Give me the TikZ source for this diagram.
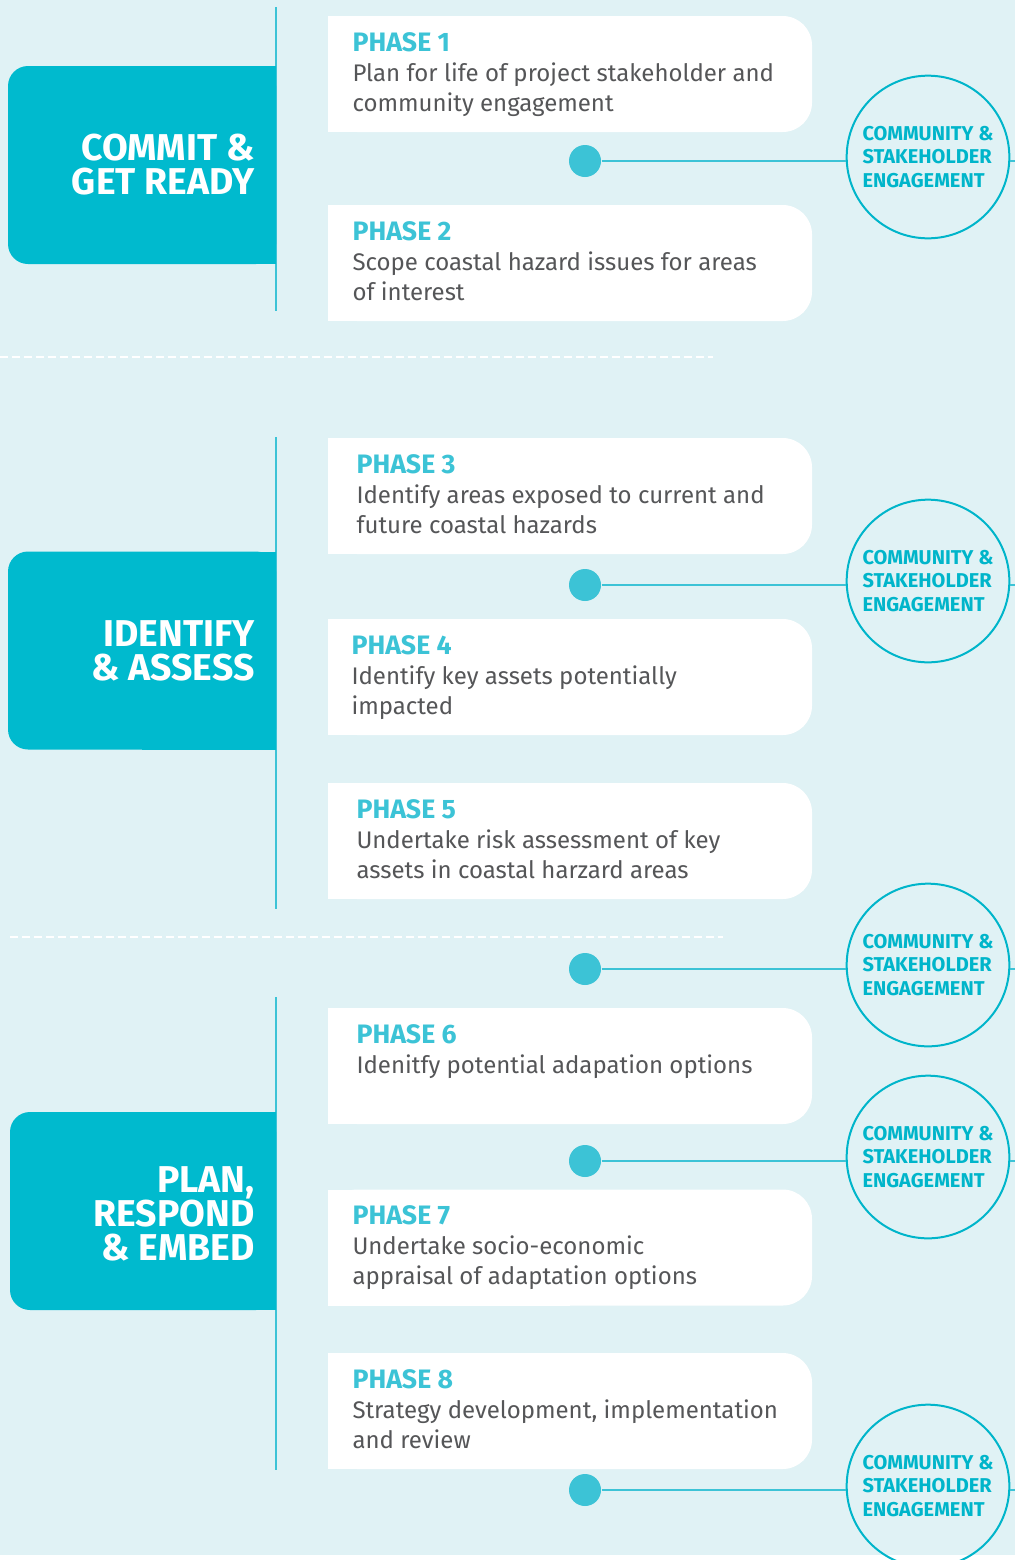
\documentclass[tikz,border=0pt]{standalone}
\usepackage{fontspec}
\setmainfont{Fira Sans}
\definecolor{bgcol}{HTML}{E0F2F5}
\definecolor{tabcol}{HTML}{00BACE}
\definecolor{linecol}{HTML}{3CC3D6}
\definecolor{circol}{HTML}{00B5CA}
\definecolor{txtcol}{HTML}{555658}
\tikzset{every picture/.style={line width=0.75pt}}
\tikzset{
  tabbox/.style={fill=tabcol, rounded corners=15pt, minimum width=201pt, minimum height=148.5pt, inner sep=0pt, outer sep=0pt},
  tablabel/.style={anchor=east, align=right, text=white, inner sep=0pt, font=\fontsize{28}{25.5}\selectfont\bfseries},
  phasebox/.style={fill=white, rounded corners=22pt, minimum width=363pt, minimum height=87pt, inner sep=0pt, outer sep=0pt},
  phasetext/.style={anchor=north west, align=left, text=txtcol, inner sep=0pt, font=\fontsize{18}{22.5}\selectfont},
  dot/.style={circle, fill=linecol, minimum size=24pt, inner sep=0pt},
  engage/.style={circle, draw=circol, line width=1.5pt, minimum size=122pt, inner sep=0pt, align=left, text=circol, font=\fontsize{15}{17.5}\selectfont\bfseries},
  link/.style={draw=linecol, line width=1.5pt},
  spine/.style={draw=linecol, line width=1.5pt},
  sep/.style={draw=white, line width=1.5pt, dash pattern=on 6pt off 3pt}
}
\newcommand{\phaselbl}[1]{{\fontsize{20}{22.5}\selectfont\bfseries\color{linecol}PHASE #1}}
\newcommand{\engtext}{COMMUNITY \&\\STAKEHOLDER\\ENGAGEMENT}

\begin{document}
\begin{tikzpicture}[x=0.75pt,y=0.75pt,yscale=-1,xscale=1]
\useasboundingbox (0,0) rectangle (1015,1560);
%Background
\fill[white] (0,0) rectangle (1015,1560);
\fill[bgcol] (0,0) rectangle (1015,1555);

%Dashed separators
\draw[sep] (0,357) -- (713,357);
\draw[sep] (10,937) -- (723,937);

%Spines
\draw[spine] (276,7) -- (276,311);
\draw[spine] (276,437) -- (276,909);
\draw[spine] (276,997) -- (276,1470);

%Tabs
\node[tabbox] (t1) at (142,165) {};
\fill[tabcol] (t1.north) rectangle (t1.south east);
\node[tablabel] (t1l) at ([xshift=-15.75pt]t1.east) {COMMIT \&\\GET READY};

\node[tabbox] (t2) at (142,650.5) {};
\fill[tabcol] (t2.north) rectangle (t2.south east);
\node[tablabel] (t2l) at ([xshift=-15.75pt]t2.east) {IDENTIFY\\\& ASSESS};

\node[tabbox, minimum width=199.5pt] (t3) at (143,1211) {};
\fill[tabcol] (t3.north) rectangle (t3.south east);
\node[tablabel] (t3l) at ([xshift=-15.75pt,yshift=2pt]t3.east) {PLAN,\\RESPOND\\\& EMBED};

%Phase boxes
\foreach \n/\y in {1/74,2/263,3/496,4/677,5/841,6/1066,7/1247.5,8/1411}{
  \node[phasebox] (p\n) at (570,\y) {};
  \fill[white] (p\n.north west) rectangle (p\n.south);
}

% Text Node
\node[phasetext] (p1t) at ([xshift=18pt,yshift=12pt]p1.north west) {\phaselbl{1}\\Plan for life of project stakeholder and\\community engagement};
% Text Node
\node[phasetext] (p2t) at ([xshift=18pt,yshift=12pt]p2.north west) {\phaselbl{2}\\Scope coastal hazard issues for areas\\of interest};
% Text Node
\node[phasetext] (p3t) at ([xshift=21pt,yshift=12pt]p3.north west) {\phaselbl{3}\\Identify areas exposed to current and\\future coastal hazards};
% Text Node
\node[phasetext] (p4t) at ([xshift=17.25pt,yshift=12pt]p4.north west) {\phaselbl{4}\\Identify key assets potentially\\impacted};
% Text Node
\node[phasetext] (p5t) at ([xshift=21pt,yshift=12pt]p5.north west) {\phaselbl{5}\\Undertake risk assessment of key\\assets in coastal harzard areas};
% Text Node
\node[phasetext] (p6t) at ([xshift=21pt,yshift=12pt]p6.north west) {\phaselbl{6}\\Idenitfy potential adapation options};
% Text Node
\node[phasetext] (p7t) at ([xshift=18pt,yshift=12pt]p7.north west) {\phaselbl{7}\\Undertake socio-economic\\appraisal of adaptation options};
% Text Node
\node[phasetext] (p8t) at ([xshift=18pt,yshift=12pt]p8.north west) {\phaselbl{8}\\Strategy development, implementation\\and review};

%Engagement dots and circles
\foreach \n/\y in {1/161,2/585,3/969,4/1161,5/1490}{
  \node[dot] (d\n) at (585,\y) {};
  \node[engage] (c\n) at (928,\y-4) {\engtext};
  \coordinate (e\n) at (1015,\y);
  \draw[link] (d\n) -- (d\n -| c\n.west);
  \draw[link] (c\n.east |- d\n) -- (e\n);
}

\end{tikzpicture}
\end{document}
